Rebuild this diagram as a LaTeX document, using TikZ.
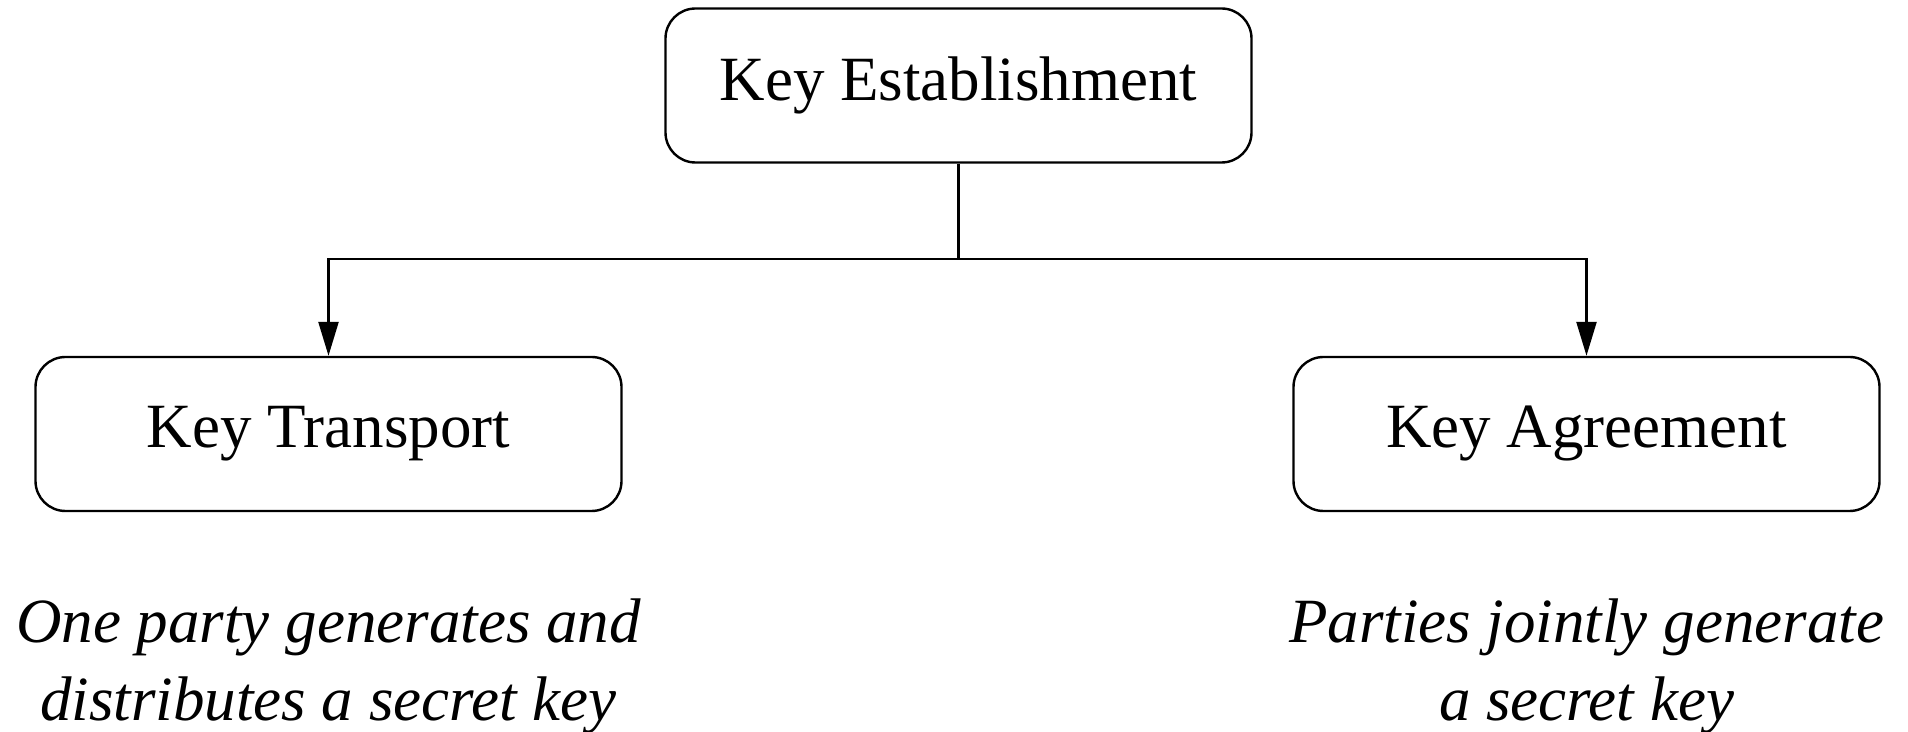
\documentclass[tikz,border=0pt]{standalone}
\usepackage{fontspec}
\setmainfont{Liberation Serif}
\usetikzlibrary{arrows.meta}
\tikzset{keybox/.style={draw,line width=1.2pt,rounded corners=15pt,minimum width=293pt,minimum height=77pt,inner sep=0pt,font=\fontsize{31.5}{39}\selectfont},
keynote/.style={align=center,inner sep=0pt,font=\fontsize{31.5}{39}\selectfont\itshape}}
\begin{document}
\begin{tikzpicture}[x=0.5pt,y=0.5pt,line width=1.2pt,>={Triangle[length=17pt,width=10pt]}]
\useasboundingbox(0,0)rectangle(1908,-732);
\node[keybox](est)at(958.5,-85.5){Key Establishment};
\node[keybox](trans)at(328.5,-434){Key Transport};
\node[keybox](agree)at(1586.5,-434){Key Agreement};
\coordinate(fork)at(958.5,-259);
\draw(est.south)--(fork);
\draw[->](fork)-|(trans.north);
\draw[->](fork)-|(agree.north);
\node[keynote](transnote)at(328.5,-666){One party generates and\\distributes a secret key};
\node[keynote](agreenote)at(1586.5,-666){Parties jointly generate\\a secret key};
\end{tikzpicture}
\end{document}
